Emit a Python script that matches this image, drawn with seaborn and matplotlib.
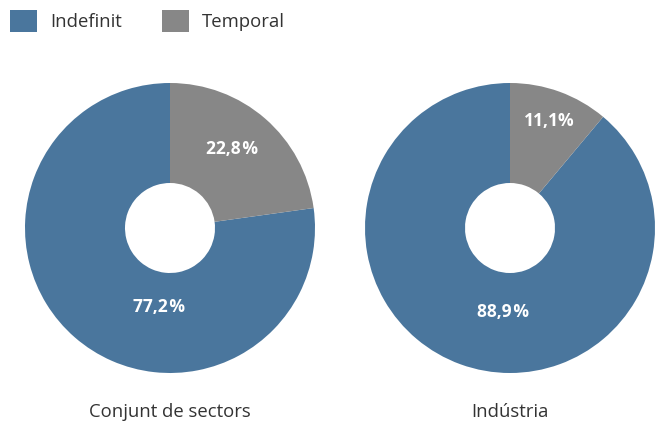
import matplotlib
matplotlib.use("Agg")
import matplotlib.pyplot as plt
import seaborn as sns
from matplotlib.patches import Patch

sns.set_theme(style="white")
plt.rcParams['font.family'] = ['Open Sans', 'DejaVu Sans']

categories = ["Indefinit", "Temporal"]
panels = ["Conjunt de sectors", "Indústria"]
indefinit = [77.2, 88.9]
temporal = [22.8, 11.1]
labels_indef = ["77,2\u200a%", "88,9\u200a%"]
labels_temp = ["22,8\u200a%", "11,1%"]

colors = ["#4a769d", "#878787"]

W, H = 659, 423
fig = plt.figure(figsize=(W / 100, H / 100), dpi=100)

centers = [(170, 228), (510, 228)]
R = 145
# label offsets in units of radius (dx, dy) relative to center
off_indef = [(-11 / R, -79 / R), (-7 / R, -84 / R)]
off_temp = [(62 / R, 79 / R), (39 / R, 107 / R)]

for i, (cx, cy) in enumerate(centers):
    ax = fig.add_axes([(cx - R) / W, (H - cy - R) / H, 2 * R / W, 2 * R / H])
    vals = [indefinit[i], temporal[i]]
    ax.pie(vals, colors=colors, startangle=90, counterclock=True,
           radius=1, wedgeprops=dict(width=1 - 45 / R, linewidth=0))
    ax.set_xlim(-1, 1)
    ax.set_ylim(-1, 1)
    ax.set_aspect("equal")
    ax.axis("off")
    ax.text(off_indef[i][0], off_indef[i][1], labels_indef[i], color="white",
            fontsize=12.5, fontweight="bold", ha="center", va="center")
    ax.text(off_temp[i][0], off_temp[i][1], labels_temp[i], color="white",
            fontsize=12.5, fontweight="bold", ha="center", va="center")
    fig.text(cx / W, 1 - 412 / H, panels[i], ha="center", va="center",
             fontsize=13.3, color="#333333")

handles = [Patch(facecolor=c, edgecolor="none") for c in colors]
fig.legend(handles, categories, loc="upper left", bbox_to_anchor=(0.0, 1.0),
           ncol=2, frameon=False, fontsize=13.3, handlelength=1.45,
           handleheight=1.45, handletextpad=0.7, columnspacing=2.2,
           borderaxespad=0.15, labelcolor="#333333")

fig.savefig("out.png", dpi=100, facecolor="white")
